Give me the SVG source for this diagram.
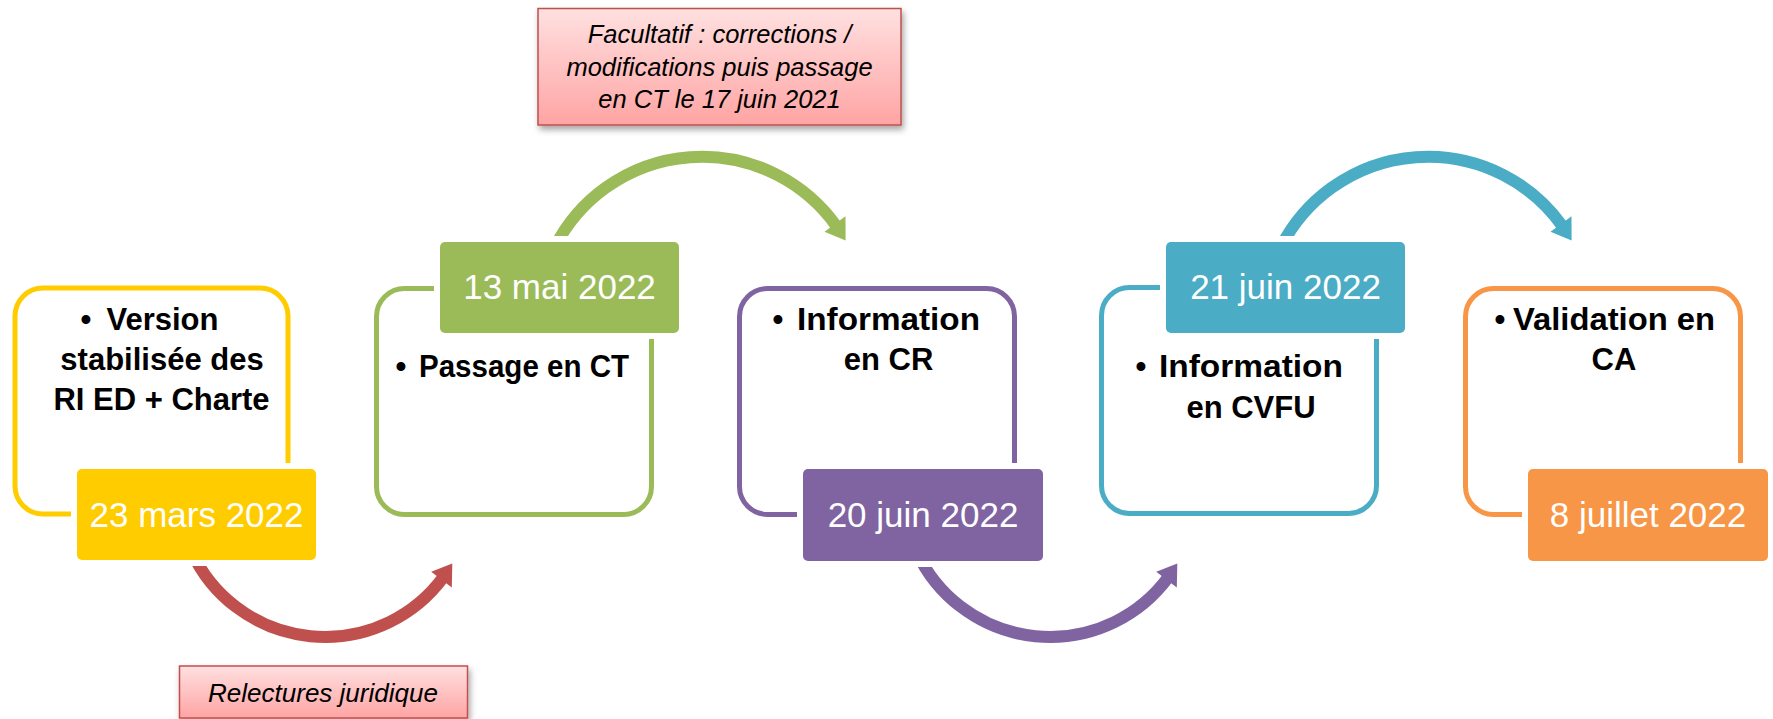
<svg xmlns="http://www.w3.org/2000/svg" width="1773" height="719" viewBox="0 0 1773 719">
  <defs>
    <linearGradient id="pink" x1="0" y1="0" x2="0" y2="1">
      <stop offset="0" stop-color="#FFE0E0"/>
      <stop offset="1" stop-color="#FFA4A4"/>
    </linearGradient>
    <filter id="shadow" x="-10%" y="-20%" width="120%" height="150%">
      <feDropShadow dx="2" dy="4" stdDeviation="3" flood-color="#000" flood-opacity="0.35"/>
    </filter>
    <style>
      .frame { fill: #FFFFFF; stroke-width: 5; }
      .pad { fill: #FFFFFF; }
      .body { font-family: "Liberation Sans", Arial, sans-serif; font-weight: bold; font-size: 31px; fill: #000000; text-anchor: middle; }
      .bullet { font-family: "Liberation Sans", Arial, sans-serif; font-weight: bold; font-size: 31px; fill: #000000; }
      .date { font-family: "Liberation Sans", Arial, sans-serif; font-size: 35px; fill: #FFFFFF; text-anchor: middle; }
      .note { fill: url(#pink); stroke: #C0504D; stroke-width: 1.5; filter: url(#shadow); }
      .notetext { font-family: "Liberation Sans", Arial, sans-serif; font-style: italic; font-size: 25.5px; fill: #000000; text-anchor: middle; }
      .shaft { fill: none; stroke-width: 12; }
    </style>
  </defs>
  <rect width="1773" height="719" fill="#FFFFFF"/>

  <g id="connectors">
    <g id="arrow-red">
      <path class="shaft" stroke="#C0504D" d="M191.8,552.1 A147,147 0 0 0 443.2,577.4"/>
      <polygon fill="#C0504D" points="452.3,563.5 431.2,571.8 451.8,587.6"/>
    </g>
    <g id="arrow-green">
      <path class="shaft" stroke="#9BBB59" d="M555,246.8 A165,165 0 0 1 836.3,225.9"/>
      <polygon fill="#9BBB59" points="845.6,240.5 824.5,231.7 845.5,216.3"/>
    </g>
    <g id="arrow-purple" transform="translate(725,0)">
      <path class="shaft" stroke="#8064A2" d="M191.8,552.1 A147,147 0 0 0 443.2,577.4"/>
      <polygon fill="#8064A2" points="452.3,563.5 431.2,571.8 451.8,587.6"/>
    </g>
    <g id="arrow-teal" transform="translate(726,0)">
      <path class="shaft" stroke="#4BACC6" d="M555,246.8 A165,165 0 0 1 836.3,225.9"/>
      <polygon fill="#4BACC6" points="845.6,240.5 824.5,231.7 845.5,216.3"/>
    </g>
  </g>

  <g id="node-1">
    <rect class="frame" stroke="#FFCC00" x="15" y="288" width="273" height="226" rx="28"/>
    <text class="bullet" x="80.5" y="330">•</text>
    <text class="body" x="162.5" y="330">Version</text>
    <text class="body" x="162" y="370">stabilisée des</text>
    <text class="body" x="161.5" y="410">RI ED + Charte</text>
    <rect class="pad" x="71" y="463" width="251" height="103" rx="8"/>
    <rect fill="#FFCC00" x="77" y="469" width="239" height="91" rx="5"/>
    <text class="date" x="196.5" y="527">23 mars 2022</text>
  </g>

  <g id="node-2">
    <rect class="frame" stroke="#9BBB59" x="376.5" y="288.5" width="275" height="226" rx="28"/>
    <text class="bullet" x="395.5" y="377">•</text>
    <text class="body" x="524" y="377" textLength="210" lengthAdjust="spacingAndGlyphs">Passage en CT</text>
    <rect class="pad" x="434" y="236" width="251" height="103" rx="8"/>
    <rect fill="#9BBB59" x="440" y="242" width="239" height="91" rx="5"/>
    <text class="date" x="559.5" y="299">13 mai 2022</text>
  </g>

  <g id="node-3">
    <rect class="frame" stroke="#8064A2" x="739.5" y="288.5" width="275" height="226" rx="28"/>
    <text class="bullet" x="772.5" y="330">•</text>
    <text class="body" x="888.5" y="330" textLength="183" lengthAdjust="spacingAndGlyphs">Information</text>
    <text class="body" x="888.5" y="370">en CR</text>
    <rect class="pad" x="797" y="463" width="252" height="104" rx="8"/>
    <rect fill="#8064A2" x="803" y="469" width="240" height="92" rx="5"/>
    <text class="date" x="923" y="527">20 juin 2022</text>
  </g>

  <g id="node-4">
    <rect class="frame" stroke="#4BACC6" x="1101.5" y="287.5" width="275" height="226" rx="28"/>
    <text class="bullet" x="1135.5" y="377">•</text>
    <text class="body" x="1251" y="377" textLength="184" lengthAdjust="spacingAndGlyphs">Information</text>
    <text class="body" x="1251" y="418">en CVFU</text>
    <rect class="pad" x="1160" y="236" width="251" height="103" rx="8"/>
    <rect fill="#4BACC6" x="1166" y="242" width="239" height="91" rx="5"/>
    <text class="date" x="1285.5" y="299">21 juin 2022</text>
  </g>

  <g id="node-5">
    <rect class="frame" stroke="#F79646" x="1465.5" y="288.5" width="275" height="226" rx="28"/>
    <text class="bullet" x="1494.5" y="330">•</text>
    <text class="body" x="1614" y="330" textLength="202" lengthAdjust="spacingAndGlyphs">Validation en</text>
    <text class="body" x="1614" y="370">CA</text>
    <rect class="pad" x="1522" y="463" width="252" height="104" rx="8"/>
    <rect fill="#F79646" x="1528" y="469" width="240" height="92" rx="5"/>
    <text class="date" x="1648" y="527">8 juillet 2022</text>
  </g>

  <g id="note-top">
    <rect class="note" x="538" y="8.5" width="363" height="116.5"/>
    <text class="notetext" x="719.5" y="43">Facultatif : corrections /</text>
    <text class="notetext" x="719.5" y="76">modifications puis passage</text>
    <text class="notetext" x="719.5" y="108">en CT le 17 juin 2021</text>
  </g>

  <g id="note-bottom">
    <rect class="note" x="179.5" y="666" width="288" height="52"/>
    <text class="notetext" x="323" y="702" style="font-size:26px">Relectures juridique</text>
  </g>
</svg>
